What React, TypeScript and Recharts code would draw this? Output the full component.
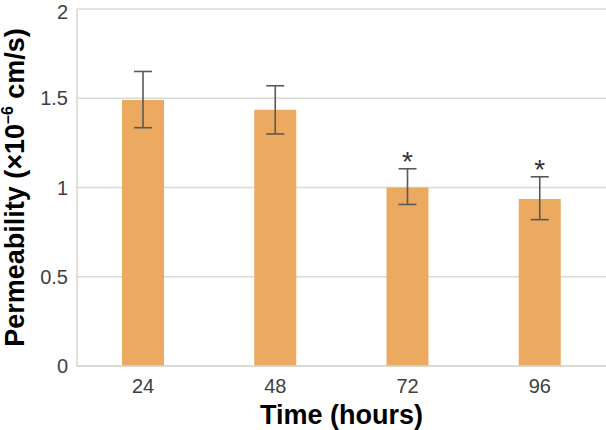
import { Bar, BarChart, CartesianGrid, ErrorBar, LabelList, XAxis, YAxis } from 'recharts';

// Permeability over time, mean ± SD, * = significant vs 24 h.
const hours = ['24', '48', '72', '96'];
const permeability = [1.49, 1.435, 1.0, 0.935];
const errLow = [0.155, 0.135, 0.095, 0.115];
const errHigh = [0.16, 0.135, 0.105, 0.125];
const marks = ['', '', '*', '*'];
const yTicks = [0, 0.5, 1, 1.5, 2];

const C = {
  bar: '#ECA960',
  grid: '#D9D9D9',
  axis: '#D8D6CC',
  err: '#595959',
  tick: '#404040',
  ink: '#000000',
};
const FONT = '"Liberation Sans", Arial, sans-serif';

const data = hours.map((h, i) => ({
  hour: h,
  value: permeability[i],
  err: [errLow[i], errHigh[i]],
  mark: marks[i],
}));

function Star(props: any) {
  const { x, y, width, height, index, value } = props;
  if (!value) return null;
  const pxPerUnit = height / data[index].value;
  const top = y - errHigh[index] * pxPerUnit;
  return (
    <text x={x + width / 2} y={top + 2} textAnchor="middle" fontSize={28} fill="#333" fontFamily={FONT}>
      {value}
    </text>
  );
}

function YLabel(props: any) {
  const vb = props.viewBox;
  const cx = 24;
  const cy = vb.y + vb.height / 2;
  return (
    <text
      x={cx}
      y={cy}
      transform={`rotate(-90, ${cx}, ${cy})`}
      textAnchor="middle"
      fontSize={27}
      fontWeight="bold"
      fill={C.ink}
      fontFamily={FONT}
    >
      Permeability (×10
      <tspan fontSize={16} dy={-11}>–6</tspan>
      <tspan dy={11}> cm/s)</tspan>
    </text>
  );
}

export default function App() {
  return (
    <div style={{ position: 'absolute', left: 0, top: 0, width: 606, height: 430, background: '#fff' }}>
      <BarChart
        width={606}
        height={430}
        data={data}
        margin={{ top: 9, right: 0, left: 0, bottom: 0 }}
      >
        <CartesianGrid vertical={false} stroke={C.grid} strokeWidth={1.5} />
        <XAxis
          dataKey="hour"
          height={64}
          tickLine={false}
          stroke={C.axis}
          strokeWidth={1.5}
          tickMargin={7}
          tick={{ fontSize: 20, fill: C.tick, fontFamily: FONT }}
          label={{
            value: 'Time (hours)',
            position: 'insideBottom',
            offset: 6,
            style: { fontSize: 27, fontWeight: 'bold', fill: C.ink, fontFamily: FONT },
          }}
        />
        <YAxis
          width={77}
          domain={[0, 2]}
          ticks={yTicks}
          tickLine={false}
          stroke={C.axis}
          strokeWidth={1.5}
          tickMargin={3}
          tick={{ fontSize: 20, fill: C.tick, fontFamily: FONT }}
          label={{ content: YLabel }}
        />
        <Bar dataKey="value" fill={C.bar} barSize={42} isAnimationActive={false}>
          <ErrorBar dataKey="err" direction="y" width={9} stroke={C.err} strokeWidth={1.6} />
          <LabelList dataKey="mark" content={Star} />
        </Bar>
      </BarChart>
    </div>
  );
}
